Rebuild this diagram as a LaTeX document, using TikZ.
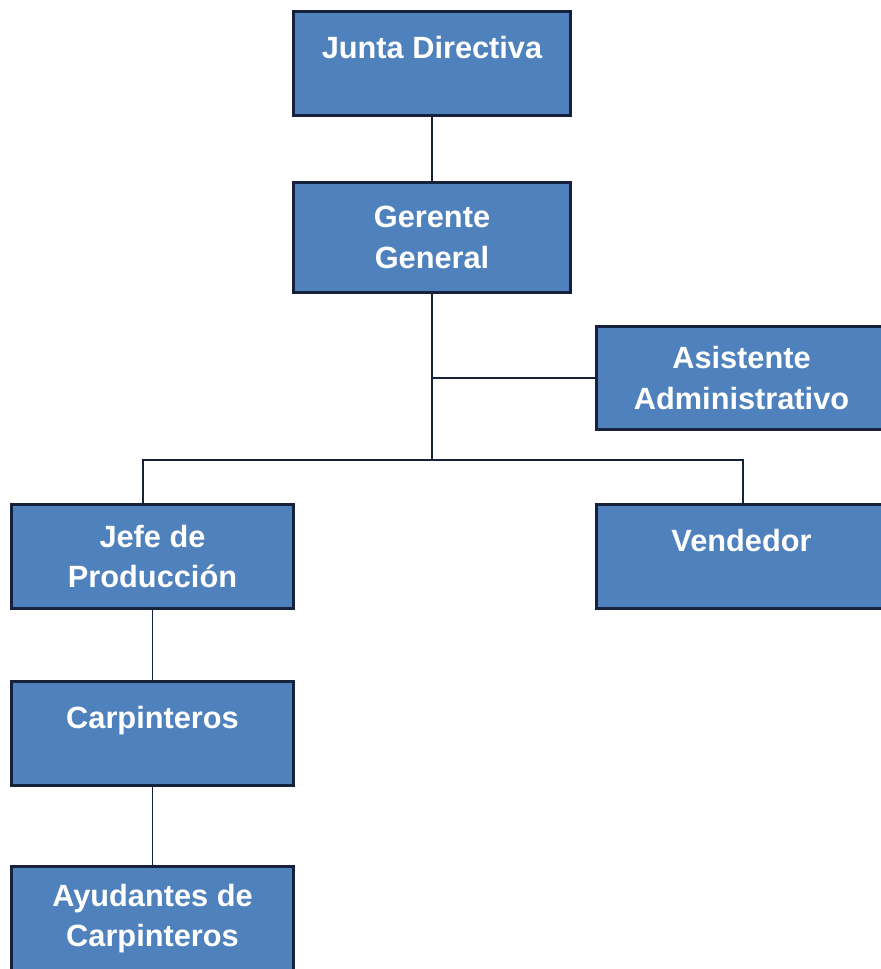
\documentclass[tikz,border=0pt]{standalone}
\usepackage{fontspec}
\setmainfont{Liberation Sans}
\usetikzlibrary{%
calc,
positioning
}
\definecolor{orgfill}{RGB}{79,129,189}
\definecolor{orgline}{RGB}{22,34,60}
\tikzset{
  orgbox/.style={draw=orgline, line width=1.7pt, fill=orgfill, text=white,
    font=\bfseries\fontsize{17.5}{23.2}\selectfont, align=center,
    minimum width=5.54cm, minimum height=2.08cm, inner sep=0pt},
  widebox/.style={minimum width=5.64cm},
  oneline/.style={text height=12pt, text depth=18pt},
  link/.style={draw=orgline, line width=1.1pt}
}

\begin{document}
\begin{tikzpicture}[x=0.02cm,y=-0.02cm]
\useasboundingbox (0,0) rectangle (880,969);
    % top of the chart
    \node[orgbox, oneline] (junta) at (432,63.5) {Junta Directiva};
    \node[orgbox, minimum height=2.2cm] (gerente) at (432,237.5) {Gerente\\General};
    \node[orgbox, widebox, minimum width=5.8cm] (asist) at (741.5,378) {Asistente\\Administrativo};
    % second level
    \node[orgbox, widebox] (jefe) at (152.5,556.5) {Jefe de\\Producci\'on};
    \node[orgbox, widebox, oneline, minimum width=5.8cm] (vend) at (741.5,556.5) {Vendedor};
    \node[orgbox, widebox, oneline] (carp) at (152.5,733.5) {Carpinteros};
    \node[orgbox, widebox] (ayud) at (152.5,918.5) {Ayudantes de\\Carpinteros};
    \coordinate (hub) at (432,460);
    % connectors
    \draw[link] (junta) -- (gerente);
    \draw[link] (gerente.south) -- (hub);
    \draw[link] (gerente.south |- asist.west) -- (asist.west);
    \draw[link] ([xshift=-0.19cm]jefe.north) |- (hub) -| ([xshift=0.03cm]vend.north);
    \draw[link] (jefe) -- (carp);
    \draw[link] (carp) -- (ayud);
\end{tikzpicture}
\end{document}
